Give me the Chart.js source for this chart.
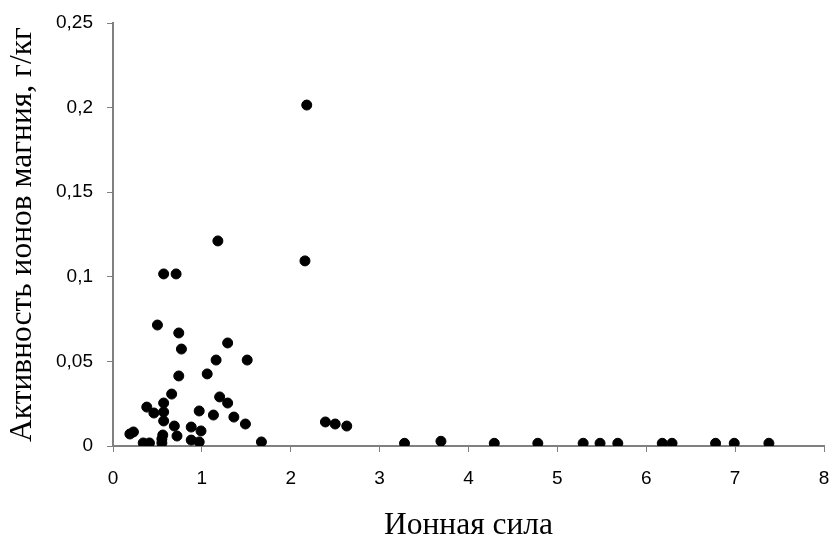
<!DOCTYPE html>
<html>
<head>
<meta charset="utf-8">
<script src="https://cdn.jsdelivr.net/npm/chart.js@4"></script>
<style>
    html, body { margin: 0; padding: 0; background: #fff; }
    #wrap { width: 833px; height: 541px; }
</style>
</head>
<body>
<div id="wrap"><canvas id="mgChart" width="833" height="541"></canvas></div>
<script>
// ======================================================
// Data
// ======================================================

const ionicStrength = [
    2.18, 2.16, 1.18, 0.57, 0.71, 0.50, 0.74, 0.77, 1.29, 1.16,
    1.51, 0.74, 1.06, 0.66, 1.20, 1.29, 0.38, 0.46, 0.57, 0.57,
    0.97, 1.13, 1.36, 1.49, 0.57, 0.69, 0.88, 0.99, 0.19, 0.23,
    0.56, 0.72, 0.88, 0.97, 0.34, 0.41, 0.55, 0.55, 1.67, 2.39,
    2.50, 2.63, 3.28, 3.69, 4.29, 4.78, 5.29, 5.48, 5.68, 6.18,
    6.29, 6.78, 6.99, 7.38
];

const mgActivity = [
    0.2015, 0.1094, 0.1212, 0.1017, 0.1017, 0.0715, 0.0668, 0.0573, 0.0609, 0.0508,
    0.0508, 0.0414, 0.0426, 0.0307, 0.0290, 0.0254, 0.0230, 0.0195, 0.0254, 0.0201,
    0.0207, 0.0183, 0.0171, 0.0130, 0.0148, 0.0118, 0.0112, 0.0089, 0.0071, 0.0083,
    0.0065, 0.0059, 0.0035, 0.0024, 0.0018, 0.0018, 0.0018, 0.0041, 0.0024, 0.0142,
    0.0130, 0.0118, 0.0016, 0.0028, 0.0016, 0.0016, 0.0016, 0.0016, 0.0016, 0.0016,
    0.0016, 0.0016, 0.0016, 0.0016
];

const xTickLabels = ["0", "1", "2", "3", "4", "5", "6", "7", "8"];
const yTickLabels = ["0", "0,05", "0,1", "0,15", "0,2", "0,25"];

const xTitle = "Ионная сила";
const yTitle = "Активность ионов магния, г/кг";

// ======================================================
// Chart
// ======================================================

document.addEventListener("DOMContentLoaded", function () {

    let ctx = document.getElementById("mgChart");

    let points = ionicStrength.map((x, i) => ({ x: x, y: mgActivity[i] }));

    let tickFont = { family: "Liberation Sans", size: 19 };
    let titleFont = { family: "Liberation Serif", size: 31.5, lineHeight: 1 };

    new Chart(ctx, {

        type: "scatter",

        data: {
            datasets: [{
                data: points,
                backgroundColor: "#000",
                borderColor: "#000",
                pointRadius: 5,
                pointHoverRadius: 5
            }]
        },

        options: {
            responsive: false,
            animation: false,
            layout: { padding: { top: 23, right: 9, left: 0, bottom: 0 } },
            plugins: {
                legend: { display: false },
                tooltip: { enabled: false }
            },
            scales: {
                x: {
                    type: "linear",
                    min: 0,
                    max: 8,
                    ticks: {
                        stepSize: 1,
                        color: "#000",
                        padding: 15,
                        font: tickFont,
                        callback: (v, i) => xTickLabels[i]
                    },
                    grid: {
                        drawOnChartArea: false,
                        color: "#808080",
                        tickLength: 6
                    },
                    border: { color: "#808080", width: 2 },
                    title: {
                        display: true,
                        text: xTitle,
                        color: "#000",
                        font: titleFont,
                        padding: { top: 0, bottom: 0 }
                    },
                    afterFit: function (scale) {
                        scale.height = 95;
                        scale.paddingLeft = 0;
                        scale.paddingRight = 0;
                    }
                },
                y: {
                    min: 0,
                    max: 0.25,
                    ticks: {
                        stepSize: 0.05,
                        color: "#000",
                        padding: 14,
                        font: tickFont,
                        callback: (v, i) => yTickLabels[i]
                    },
                    grid: {
                        drawOnChartArea: false,
                        color: "#808080",
                        tickLength: 6
                    },
                    border: { color: "#808080", width: 2 },
                    title: {
                        display: true,
                        text: yTitle,
                        color: "#000",
                        font: titleFont,
                        padding: { top: 7, bottom: 0 }
                    },
                    afterFit: function (scale) {
                        scale.width = 113;
                        scale.paddingTop = 0;
                        scale.paddingBottom = 0;
                    }
                }
            }
        }

    });

});
</script>
</body>
</html>
